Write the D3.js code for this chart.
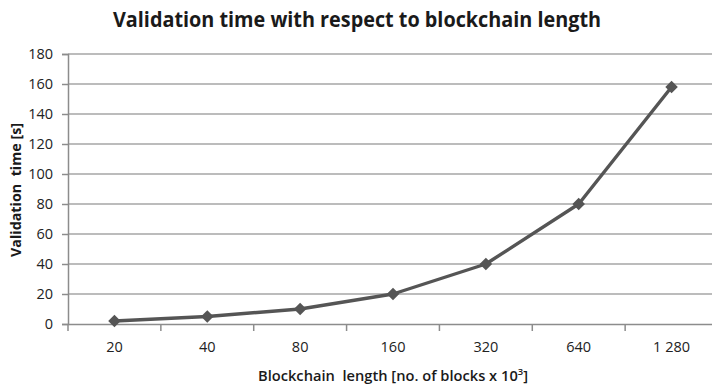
<!DOCTYPE html>
<html><head><meta charset="utf-8">
<script src="https://cdn.jsdelivr.net/npm/d3@7"></script>
<style>body{margin:0;background:#fff}svg{display:block}</style>
</head><body>
<script>
const categories = ["20","40","80","160","320","640","1 280"];
const values = [2, 5, 10, 20, 40, 80, 158];
const yTicks = [0,20,40,60,80,100,120,140,160,180];

(function(){
const W = 712, H = 387;
const svg = d3.select("body").append("svg").attr("width", W).attr("height", H);
const mLeft = 68, mRight = 718, mTop = 54, mBottom = 324;
const x = d3.scaleBand().domain(categories).range([mLeft, mRight]).padding(0);
const y = d3.scaleLinear().domain([0,180]).range([mBottom, mTop]);
const font = "'Open Sans', 'DejaVu Sans', sans-serif";

// gridlines
svg.append("g").selectAll("line").data(yTicks.slice(1)).join("line")
  .attr("x1", mLeft).attr("x2", W).attr("y1", d => y(d)).attr("y2", d => y(d))
  .attr("stroke", "#a6a6a6").attr("stroke-width", 1.6);

// y axis
const ya = svg.append("g").attr("transform", `translate(${mLeft},0)`)
  .call(d3.axisLeft(y).tickValues(yTicks).tickSize(6).tickPadding(9));
ya.select(".domain").attr("stroke", "#8c8c8c").attr("stroke-width", 1.5);
ya.selectAll(".tick line").attr("stroke", "#8c8c8c").attr("stroke-width", 1.5);
ya.selectAll("text").attr("font-family", font).attr("font-size", 14.5).attr("fill", "#222");

// x axis
const xa = svg.append("g").attr("transform", `translate(0,${mBottom})`)
  .call(d3.axisBottom(x).tickSize(0).tickPadding(18));
xa.select(".domain").attr("stroke", "#8c8c8c").attr("stroke-width", 1.5);
xa.selectAll("text").attr("font-family", font).attr("font-size", 14.5).attr("fill", "#222");
// category boundary ticks
const bounds = categories.map(c => x(c)).concat([x(categories[categories.length-1]) + x.bandwidth()]);
svg.append("g").selectAll("line").data(bounds).join("line")
  .attr("x1", d => d).attr("x2", d => d).attr("y1", mBottom).attr("y2", mBottom + 7)
  .attr("stroke", "#8c8c8c").attr("stroke-width", 1.5);

// line
const cx = d => x(d) + x.bandwidth()/2;
const line = d3.line().x((d,i) => cx(categories[i])).y(d => y(d));
svg.append("path").datum(values).attr("d", line)
  .attr("fill", "none").attr("stroke", "#555").attr("stroke-width", 3.4).attr("stroke-linejoin", "round");

// markers
svg.append("g").selectAll("path").data(values).join("path")
  .attr("d", d3.symbol(d3.symbolDiamond2, 100))
  .attr("transform", (d,i) => `translate(${cx(categories[i])},${y(d)})`)
  .attr("fill", "#555");

// title
svg.append("text").attr("x", 357).attr("y", 27).attr("text-anchor", "middle")
  .attr("font-family", font).attr("font-weight", 700).attr("font-size", 22).attr("fill", "#1a1a1a")
  .attr("textLength", 488).attr("lengthAdjust", "spacingAndGlyphs")
  .text("Validation time with respect to blockchain length");

// y title
svg.append("text").attr("transform", "translate(21,190) rotate(-90)").attr("text-anchor", "middle")
  .attr("font-family", font).attr("font-weight", 700).attr("font-size", 14).attr("fill", "#1a1a1a")
  .attr("textLength", 134).attr("lengthAdjust", "spacingAndGlyphs")
  .text("Validation\u00a0 time [s]");

// x title
const xt = svg.append("text").attr("x", 393).attr("y", 381).attr("text-anchor", "middle")
  .attr("font-family", font).attr("font-weight", 600).attr("font-size", 14).attr("fill", "#1a1a1a")
  .attr("textLength", 270).attr("lengthAdjust", "spacingAndGlyphs");
xt.append("tspan").text("Blockchain\u00a0 length [no. of blocks x 10");
xt.append("tspan").attr("font-size", 9).attr("dy", -6).text("3");
xt.append("tspan").attr("dy", 6).text("]");
})();
</script>
</body></html>
